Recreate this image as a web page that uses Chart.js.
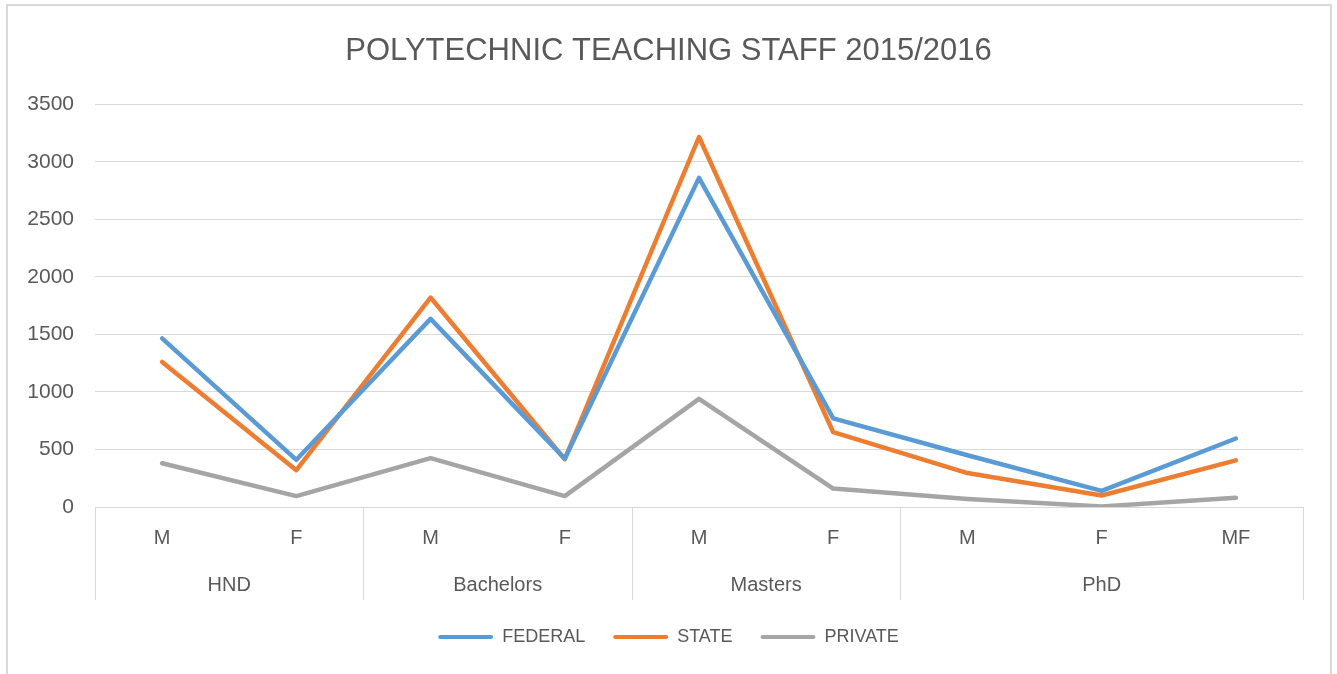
<!DOCTYPE html>
<html>
<head>
<meta charset="utf-8">
<title>Polytechnic teaching staff</title>
<script src="https://cdn.jsdelivr.net/npm/chart.js@4.4.1/dist/chart.umd.min.js"></script>
<style>
    html, body { margin: 0; padding: 0; background: #fff; }
    canvas { display: block; }
</style>
</head>
<body>
<canvas id="myChart" width="1337" height="674"></canvas>
<script>
// categories: sex within each qualification level
const levels = ["M", "F", "M", "F", "M", "F", "M", "F", "MF"];
const groups = ["HND", "Bachelors", "Masters", "PhD"];
const groupSizes = [2, 2, 2, 3];

// series values
const federal = [1465, 410, 1635, 420, 2860, 770, 450, 140, 595];
const state = [1260, 320, 1820, 415, 3215, 650, 295, 100, 405];
const privateStaff = [380, 95, 425, 95, 940, 160, 70, 5, 80];

const textColor = "#595959";
const gridColor = "#d9d9d9";
const fontFamily = "'Liberation Sans', Arial, sans-serif";

//draws the outer frame, and the second (group) row of the category axis
const groupAxis = {
    id: "groupAxis",
    beforeDraw(chart) {
        const ctx = chart.ctx;
        ctx.save();
        ctx.strokeStyle = gridColor;
        ctx.lineWidth = 2;
        ctx.strokeRect(7, 5, 1324, 700);
        ctx.restore();
    },
    afterDraw(chart) {
        const ctx = chart.ctx;
        const x = chart.scales.x;
        const area = chart.chartArea;
        const step = x.getPixelForValue(1) - x.getPixelForValue(0);
        let start = 0;
        ctx.save();
        ctx.strokeStyle = gridColor;
        ctx.lineWidth = 1;
        ctx.fillStyle = textColor;
        ctx.font = "20px " + fontFamily;
        ctx.textAlign = "center";
        ctx.textBaseline = "middle";
        groups.forEach((name, i) => {
            const end = start + groupSizes[i] - 1;
            const left = x.getPixelForValue(start) - step / 2;
            const right = x.getPixelForValue(end) + step / 2;
            [left, right].forEach((px) => {
                const p = Math.round(px) + 0.5;
                ctx.beginPath();
                ctx.moveTo(p, area.bottom);
                ctx.lineTo(p, area.bottom + 93);
                ctx.stroke();
            });
            ctx.fillText(name, (left + right) / 2, area.bottom + 78);
            start = end + 1;
        });
        ctx.restore();
    },
};

var data = {
    labels: levels,
    datasets: [
        { label: "FEDERAL", data: federal, borderColor: "#5b9bd5", backgroundColor: "#5b9bd5" },
        { label: "STATE", data: state, borderColor: "#ed7d31", backgroundColor: "#ed7d31" },
        { label: "PRIVATE", data: privateStaff, borderColor: "#a5a5a5", backgroundColor: "#a5a5a5" },
    ],
};

var options = {
    responsive: false,
    animation: false,
    devicePixelRatio: 1,
    layout: { padding: { left: 0, right: 0, top: 0, bottom: 18 } },
    elements: {
        line: { borderWidth: 4.5, tension: 0, borderJoinStyle: "round", borderCapStyle: "round" },
        point: { radius: 0, hoverRadius: 0 },
    },
    scales: {
        x: {
            offset: true,
            grid: { display: false, drawTicks: false },
            border: { display: false },
            ticks: { color: textColor, font: { family: fontFamily, size: 20 }, padding: 19, maxRotation: 0 },
            afterFit(scale) { scale.height = 93; },
        },
        y: {
            min: 0,
            max: 3500,
            grid: { color: gridColor, drawTicks: false },
            border: { display: false },
            ticks: {
                stepSize: 500,
                color: textColor,
                font: { family: fontFamily, size: 21 },
                padding: 21,
                callback: (v) => String(v),
            },
            afterFit(scale) { scale.width = 95; },
        },
        // empty strip on the right so the plot ends where the reference does
        yRight: {
            position: "right",
            grid: { display: false, drawTicks: false },
            border: { display: false },
            ticks: { display: false },
            afterFit(scale) { scale.width = 34; },
        },
    },
    plugins: {
        title: {
            display: true,
            text: "POLYTECHNIC TEACHING STAFF 2015/2016",
            color: textColor,
            font: { family: fontFamily, size: 31, weight: "normal" },
            padding: { top: 33, bottom: 34 },
        },
        legend: {
            display: true,
            position: "bottom",
            labels: {
                color: textColor,
                font: { family: fontFamily, size: 18 },
                boxWidth: 55,
                boxHeight: 4,
                padding: 28,
                generateLabels(chart) {
                    const items = Chart.defaults.plugins.legend.labels.generateLabels(chart);
                    return items.map((it) => Object.assign(it, { lineWidth: 0, fillStyle: it.strokeStyle, borderRadius: 2 }));
                },
            },
        },
        tooltip: { enabled: false },
    },
};

new Chart(document.getElementById("myChart"), {
    type: "line",
    data: data,
    options: options,
    plugins: [groupAxis],
});
</script>
</body>
</html>
